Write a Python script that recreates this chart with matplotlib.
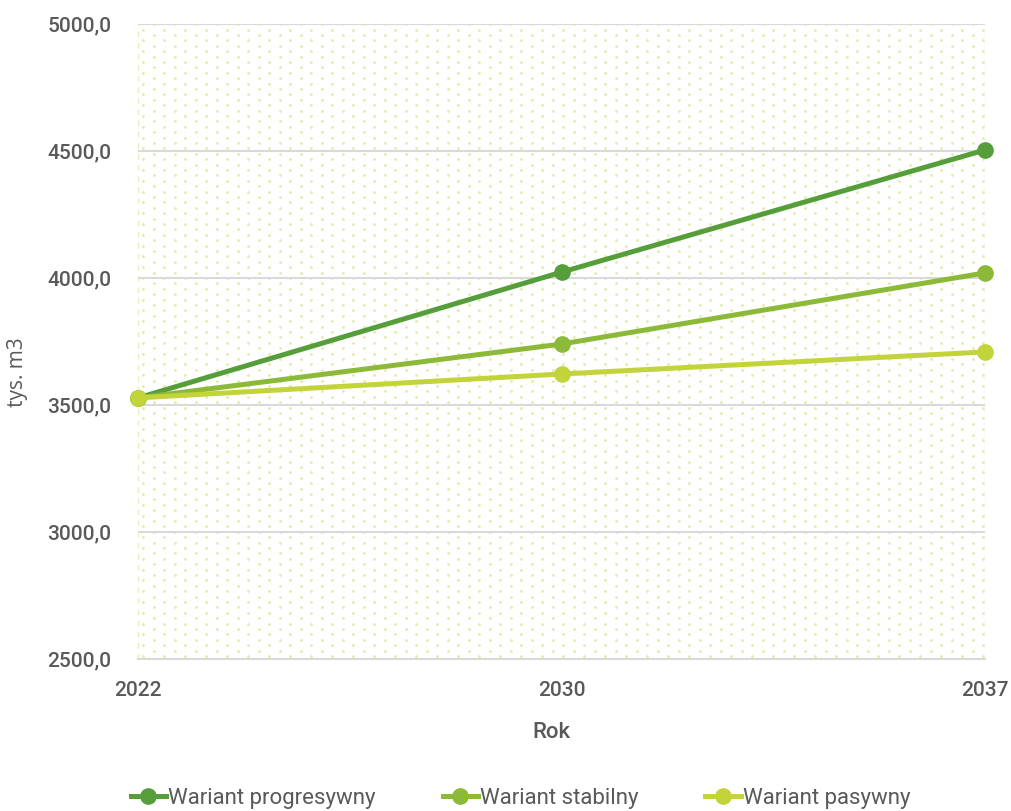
import numpy as np
import matplotlib
matplotlib.use("Agg")
import matplotlib.pyplot as plt
from matplotlib.ticker import FuncFormatter

years = ["2022", "2030", "2037"]
progresywny = [3528, 4023, 4504]
stabilny = [3528, 3740, 4020]
pasywny = [3528, 3622, 3709]
series_names = ["Wariant progresywny", "Wariant stabilny", "Wariant pasywny"]
colors = ["#569e3a", "#8cba38", "#c3d33a"]

fig = plt.figure(figsize=(10.11, 8.11), dpi=100)
ax = fig.add_axes([138 / 1011, 1 - 659 / 811, (985 - 138) / 1011, (659 - 24) / 811])

# dotted background pattern
W, H = 985 - 138, 659 - 24
pts = []
row = 0
yy = 3.0
while yy < H:
    off = 0 if row % 2 == 0 else 10.5
    xx = 5.0 + off
    while xx < W:
        pts.append((xx / W, yy / H))
        xx += 21
    yy += 5.4
    row += 1
pts = np.array(pts)
ax.scatter(pts[:, 0], pts[:, 1], s=4, color="#e0eaa8", marker="o",
           linewidths=0, transform=ax.transAxes, zorder=0)
ax.axvline(0, color="#e6edbc", lw=1, ls=(0, (4, 4)), zorder=0.5)
ax.axvline(len(years) - 1, color="#e6edbc", lw=1, ls=(0, (4, 4)), zorder=0.5)

x = np.arange(len(years))
for vals, name, c in zip([progresywny, stabilny, pasywny], series_names, colors):
    ax.plot(x, vals, color=c, lw=3.6, marker="o", markersize=11, label=name,
            zorder=3, clip_on=False)

ax.set_xlim(0, len(years) - 1)
ax.set_ylim(2500, 5000)
ax.set_yticks(np.arange(2500, 5001, 500))
ax.yaxis.set_major_formatter(FuncFormatter(lambda v, p: f"{v:.1f}".replace(".", ",")))
ax.set_xticks(x)
ax.set_xticklabels(years)
ax.grid(axis="y", color="#d9d9d9", lw=1.5, zorder=1)
ax.set_axisbelow(True)
for s in ["top", "right", "left"]:
    ax.spines[s].set_visible(False)
ax.spines["bottom"].set_color("#d9d9d9")
ax.spines["bottom"].set_linewidth(1.5)
ax.tick_params(length=0, colors="#595959", labelsize=15)
ax.tick_params(axis="y", pad=19)
ax.tick_params(axis="x", pad=16)
for lab in ax.get_xticklabels() + ax.get_yticklabels():
    lab.set_fontfamily("Roboto")
    lab.set_fontweight("medium")

ax.set_xlabel("Rok", fontsize=16, color="#595959", family="Roboto",
              fontweight="medium")
ax.xaxis.set_label_coords(0.4876, -0.099)
ax.set_ylabel("tys. m3", fontsize=15, color="#595959", family="Open Sans")
ax.yaxis.set_label_coords(-0.13, 0.452)

fig.legend(loc="lower center", bbox_to_anchor=(0.515, -0.022), ncol=3, frameon=False,
           prop={"family": "Roboto", "size": 16},
           labelcolor="#595959", handlelength=1.6, handletextpad=0.1,
           columnspacing=3.0)

fig.savefig("out.png", dpi=100)
